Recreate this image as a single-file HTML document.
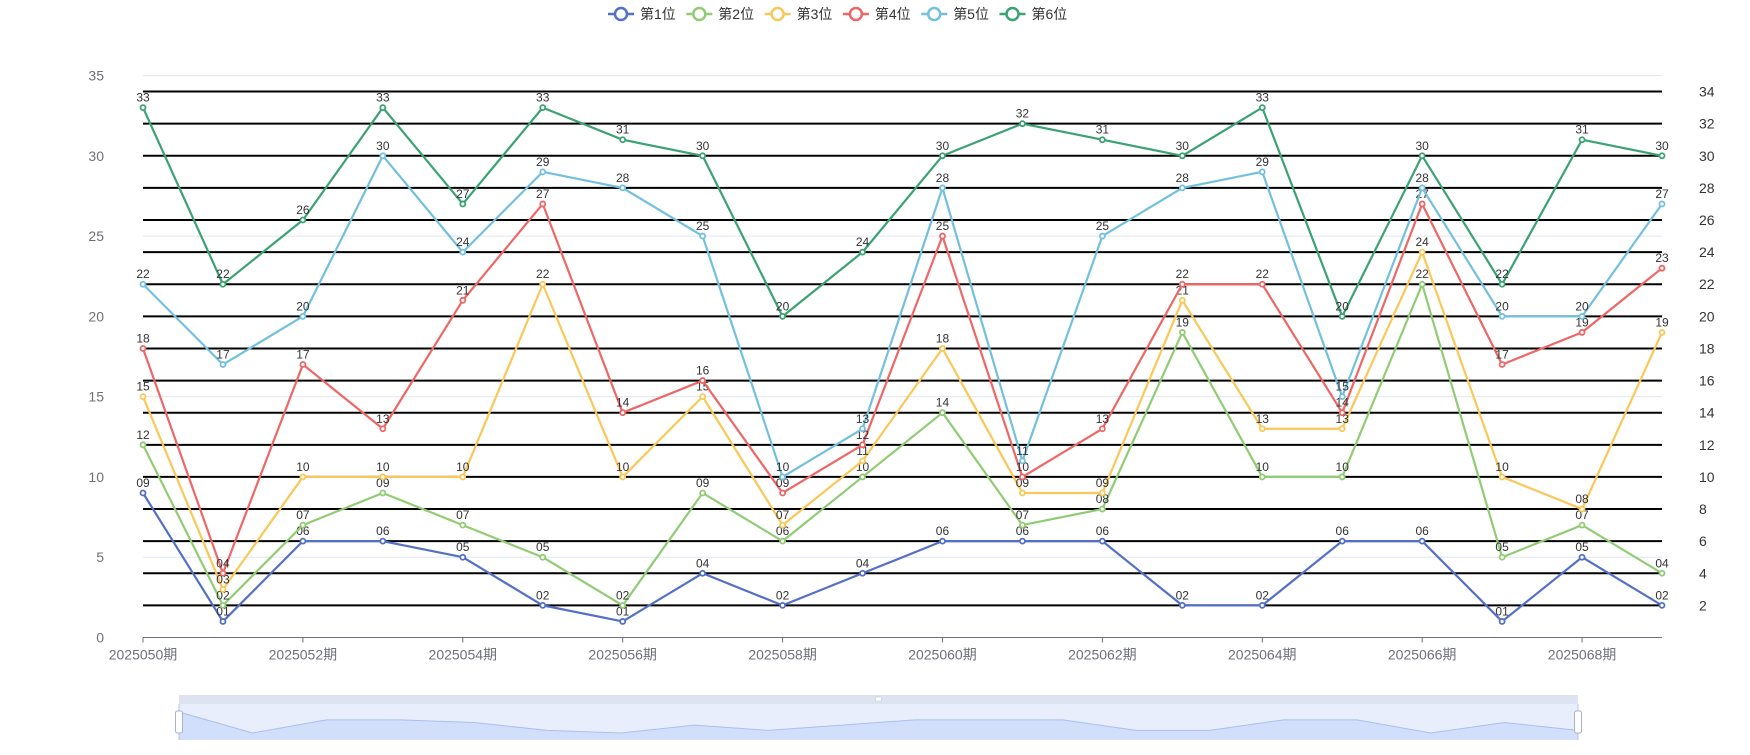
<!DOCTYPE html>
<html><head><meta charset="utf-8"><style>
body{margin:0;background:#fff;}
svg text{font-family:"Liberation Sans","Noto Sans CJK SC",sans-serif;}
</style></head><body>
<svg id="c" width="1750" height="750" xmlns="http://www.w3.org/2000/svg"></svg>
<script>
const categories=["2025050期","2025051期","2025052期","2025053期","2025054期","2025055期","2025056期","2025057期","2025058期","2025059期","2025060期","2025061期","2025062期","2025063期","2025064期","2025065期","2025066期","2025067期","2025068期","2025069期"];
const seriesNames=["第1位","第2位","第3位","第4位","第5位","第6位"];
const s1=[9,1,6,6,5,2,1,4,2,4,6,6,6,2,2,6,6,1,5,2];
const s2=[12,2,7,9,7,5,2,9,6,10,14,7,8,19,10,10,22,5,7,4];
const s3=[15,3,10,10,10,22,10,15,7,11,18,9,9,21,13,13,24,10,8,19];
const s4=[18,4,17,13,21,27,14,16,9,12,25,10,13,22,22,14,27,17,19,23];
const s5=[22,17,20,30,24,29,28,25,10,13,28,11,25,28,29,15,28,20,20,27];
const s6=[33,22,26,33,27,33,31,30,20,24,30,32,31,30,33,20,30,22,31,30];
const leftTicks=[0,5,10,15,20,25,30,35];
const rightTicks=[2,4,6,8,10,12,14,16,18,20,22,24,26,28,30,32,34];
const colors=["#5470c6","#91cc75","#fac858","#ee6666","#73c0de","#3ba272"];
const allSeries=[s1,s2,s3,s4,s5,s6];
const svg=document.getElementById('c');
const NS="http://www.w3.org/2000/svg";
function mk(t,a,p){const e=document.createElementNS(NS,t);for(const k in a)e.setAttribute(k,a[k]);(p||svg).appendChild(e);return e;}
const X0=143,X1=1662,Y0=637.5,Y35=75.5;
const xs=i=>X0+(X1-X0)*i/(categories.length-1);
const ys=v=>Y0-(Y0-Y35)*v/35;
// left grid
leftTicks.forEach(t=>{
  if(t>0){const l=mk('line',{x1:X0,x2:X1,y1:ys(t),y2:ys(t),stroke:'#e0e6f1','stroke-width':1});
  }
  const tx=mk('text',{x:104,y:ys(t)+5,'text-anchor':'end','font-size':14,fill:'#6e7079'});tx.textContent=t;
  
});
rightTicks.forEach(t=>{
  const l=mk('line',{x1:X0,x2:X1,y1:ys(t),y2:ys(t),stroke:'#000','stroke-width':2});
  
  const tx=mk('text',{x:1699,y:ys(t)+5,'font-size':14,fill:'#333'});tx.textContent=t;
  
});
// x axis
const ax=mk('line',{x1:X0,x2:X1,y1:Y0,y2:Y0,stroke:'#6e7079','stroke-width':1});

categories.forEach((c,i)=>{
  if(i%2===0){
    mk('line',{x1:xs(i),x2:xs(i),y1:Y0,y2:Y0+5,stroke:'#6e7079'});
    const t=mk('text',{x:xs(i),y:Y0+22,'text-anchor':'middle','font-size':14,fill:'#6e7079'});t.textContent=c;
    
  }
});
// series
allSeries.forEach((d,si)=>{
  const g=mk('g',{});
  
  const p=mk('polyline',{points:d.map((v,i)=>xs(i)+','+ys(v)).join(' '),fill:'none',stroke:colors[si],'stroke-width':2.2,'stroke-linejoin':'round'},g);
  
  d.forEach((v,i)=>{
    const c=mk('circle',{cx:xs(i),cy:ys(v),r:2.5,fill:'#fff',stroke:colors[si],'stroke-width':1.8},g);
    
    const t=mk('text',{x:xs(i),y:ys(v)-6,'text-anchor':'middle','font-size':12,fill:'#333'},g);
    t.textContent=String(v).padStart(2,'0');
    
  });
});
// legend
const lg=mk('g',{});
seriesNames.forEach((n,i)=>{
  const bx=608+i*78.3;
  const e=mk('g',{},lg);
  mk('line',{x1:bx,x2:bx+26,y1:14,y2:14,stroke:colors[i],'stroke-width':2.5},e);
  mk('circle',{cx:bx+13,cy:14,r:6,fill:'#fff',stroke:colors[i],'stroke-width':2.5},e);
  const t=mk('text',{x:bx+32,y:19,'font-size':14,fill:'#333'},e);t.textContent=n;
});
// datazoom
const dz=mk('g',{});
const DX0=179,DX1=1578;
mk('rect',{x:DX0,y:695,width:DX1-DX0,height:45,fill:'#e8eefc'},dz);
mk('rect',{x:DX0,y:695,width:DX1-DX0,height:9,fill:'#dde3f1'},dz);
const dmax=Math.max(...s1),dmin=Math.min(...s1);
const dxs=i=>DX0+(DX1-DX0)*i/(s1.length-1);
const dys=v=>733-(733-712)*(v-dmin)/(dmax-dmin);
const pts=s1.map((v,i)=>dxs(i)+','+dys(v)).join(' ');
const sh=mk('polygon',{points:DX0+',740 '+pts+' '+DX1+',740',fill:'#d2dffb',stroke:'none'},dz);

mk('polyline',{points:pts,fill:'none',stroke:'#a9bff0','stroke-width':1},dz);
mk('line',{x1:DX0,x2:DX0,y1:704,y2:740,stroke:'#b5c3e0'},dz);
mk('line',{x1:DX1,x2:DX1,y1:704,y2:740,stroke:'#b5c3e0'},dz);
[DX0,DX1].forEach((hx,k)=>{
  const h=mk('rect',{x:hx-3.5,y:711,width:7,height:22,rx:2,fill:'#fff',stroke:'#a5b3d0','stroke-width':1},dz);
  
});
mk('rect',{x:(DX0+DX1)/2-3,y:697,width:6,height:4,fill:'#fff',stroke:'#c0c8d8','stroke-width':0.5},dz);
</script>
</body></html>
